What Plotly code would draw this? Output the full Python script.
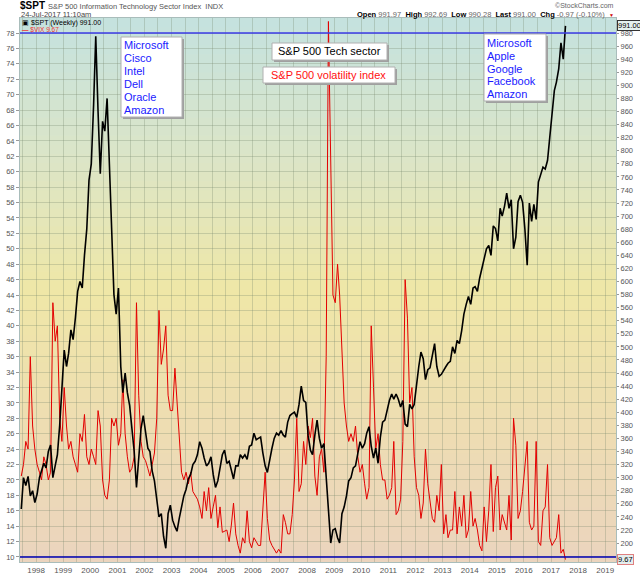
import pandas as pd
import plotly.graph_objects as go

# Weekly chart, kept here as mid-month values, Jun 1997 .. Jul 2017
spt_close = [
    252, 300, 288, 302, 272, 280, 262,                              # 1997 (Jun-Dec)
    275, 300, 312, 322, 315, 340, 350, 300, 318, 335, 380, 445,     # 1998
    495, 470, 490, 526, 511, 545, 585, 600, 590, 640, 680, 755,     # 1999
    780, 870, 975, 860, 765, 845, 830, 880, 770, 680, 580, 550,     # 2000
    590, 470, 430, 460, 430, 410, 380, 340, 285, 330, 375, 395,     # 2001
    370, 345, 340, 310, 295, 265, 240, 245, 210, 192, 245, 258,     # 2002
    235, 225, 218, 238, 258, 272, 282, 298, 305, 320, 325, 335,     # 2003
    355, 345, 330, 318, 322, 332, 305, 285, 295, 312, 335, 342,     # 2004
    322, 325, 312, 298, 318, 318, 335, 330, 335, 328, 348, 350,     # 2005
    368, 358, 360, 362, 338, 318, 308, 328, 345, 360, 368, 365,     # 2006
    372, 365, 362, 385, 395, 398, 400, 392, 412, 440, 418, 415,     # 2007
    365, 342, 335, 365, 388, 360, 345, 352, 305, 250, 200, 220,     # 2008
    222, 208, 200, 245, 255, 272, 295, 300, 315, 318, 335, 355,     # 2009
    345, 352, 368, 378, 348, 330, 345, 322, 362, 385, 388, 405,     # 2010
    418, 428, 420, 428, 420, 408, 418, 382, 378, 412, 405, 412,     # 2011
    445, 470, 492, 482, 450, 465, 468, 490, 505, 470, 455, 458,     # 2012
    465, 470, 475, 478, 500, 490, 510, 505, 525, 550, 565, 577,     # 2013
    565, 590, 592, 585, 605, 620, 630, 650, 655, 640, 685, 681,     # 2014
    662, 712, 700, 715, 735, 712, 725, 650, 668, 722, 732, 721,     # 2015
    680, 625, 720, 692, 718, 695, 752, 765, 775, 772, 785, 820,     # 2016
    860, 892, 905, 925, 965, 940, 991,                              # 2017 (Jan-Jul)
]

vix_close = [
    20.5, 22, 25, 24, 36, 27, 24,                                   # 1997
    22, 21, 20, 23, 22, 20, 21, 43, 38, 40, 28, 25,                 # 1998
    32, 27, 24, 25, 23, 22, 21, 26, 25, 28.5, 23, 22,               # 1999
    24, 23, 22, 29, 27, 20, 18, 17.5, 20, 28, 27, 28,               # 2000
    24.5, 26, 33, 26, 23, 21, 21.5, 23, 43, 31, 25, 23,             # 2001
    22.5, 21.5, 20.5, 22, 23.5, 28, 42, 35, 37, 40, 31, 29,         # 2002
    29, 34.5, 30, 25, 21, 20, 21, 19.5, 21, 18.5, 18, 17.5,         # 2003
    16.5, 15, 18.5, 16, 19, 15, 16.5, 18, 13.8, 16.5, 13.2, 13.3,   # 2004
    13.5, 12, 14, 17, 13, 11.5, 10.5, 12.5, 11.8, 16, 12, 11.2,     # 2005
    12.5, 12, 11.5, 11.5, 16.5, 21, 15, 12.2, 11.5, 11, 10.5, 11,   # 2006
    10.5, 15.5, 14.5, 13, 13, 15.5, 20, 28, 18.5, 19.5, 25, 22,     # 2007
    27, 25.5, 28, 20.5, 18, 23, 24, 21, 36, 79.5, 58, 44,           # 2008
    43, 48, 44, 36, 30, 27, 25, 26, 25, 27, 23, 21,                 # 2009
    22, 19.5, 17.5, 19, 40, 32, 24, 26, 22, 20, 20, 17.5,           # 2010
    18, 19, 25, 15.5, 16, 17.5, 25, 46, 41, 30, 32, 23,             # 2011
    19, 18, 15, 17, 24, 19.5, 17, 15, 14.5, 18, 16, 22,             # 2012
    13, 15.5, 12.5, 13.5, 13.5, 18.5, 13, 16.5, 14, 18, 12.5, 13.5, # 2013
    18.5, 14, 15, 13.5, 11.5, 10.8, 16.5, 12, 16, 22, 13.3, 19,     # 2014
    20.5, 13.5, 15.5, 14.5, 13.5, 18, 12.2, 28, 24.5, 15, 16, 18.5, # 2015
    22, 25, 14.5, 13.5, 14, 25, 12, 11.5, 16, 16.5, 22, 12.5,       # 2016
    11.5, 12, 12.5, 15.5, 10.5, 11, 9.67,                           # 2017
]

dates = pd.date_range("1997-06-01", periods=len(spt_close), freq="MS") + pd.Timedelta(days=14)

left_box = ["Microsoft", "Cisco", "Intel", "Dell", "Oracle", "Amazon"]
right_box = ["Microsoft", "Apple", "Google", "Facebook", "Amazon"]
quote_fields = [("Open", "991.97"), ("High", "992.69"), ("Low", "990.28"),
                ("Last", "991.00"), ("Chg", "-0.97 (-0.10%)")]
vix_ticks = list(range(10, 80, 2))
spt_ticks = list(range(200, 1000, 20))

W, H = 640, 576
ML, MR, MT, MB = 20, 24, 18, 14
FONT = "Liberation Sans, Arial, sans-serif"


def fx(x):
    return (x - ML) / (W - ML - MR)


def fy(y):
    return (H - MB - y) / (H - MT - MB)


def mix(c1, c2, t):
    return tuple(round(a + (b - a) * t) for a, b in zip(c1, c2))


fig = go.Figure()

fig.add_trace(go.Scatter(x=dates, y=vix_close, mode="lines", yaxis="y",
                         line=dict(color="#e30000", width=1), hoverinfo="skip"))
fig.add_trace(go.Scatter(x=dates, y=spt_close, mode="lines", yaxis="y2",
                         line=dict(color="#000000", width=1.6), hoverinfo="skip"))

shapes = []
# background gradient: peach at the bottom, yellow in the middle, teal on top
stops = [(0.0, (235, 212, 190)), (0.25, (238, 221, 178)), (0.5, (239, 231, 167)),
         (0.75, (219, 229, 200)), (1.0, (196, 226, 223))]
n = 60
for i in range(n):
    t = (i + 0.5) / n
    for (a, ca), (b, cb) in zip(stops[:-1], stops[1:]):
        if a <= t <= b:
            c = mix(ca, cb, (t - a) / (b - a))
            break
    shapes.append(dict(type="rect", xref="x domain", yref="y domain",
                       x0=0, x1=1, y0=i / n, y1=(i + 1) / n + 0.002,
                       fillcolor="rgb(%d,%d,%d)" % c, line=dict(width=0), layer="below"))

# user drawn lines
shapes.append(dict(type="line", xref="x domain", yref="y", x0=0, x1=1, y0=78, y1=78,
                   line=dict(color="#3b3be6", width=1.5)))
shapes.append(dict(type="line", xref="x domain", yref="y", x0=0, x1=1, y0=10, y1=10,
                   line=dict(color="#0000b4", width=1.5)))

annotations = []


def add_box(x0, y0, x1, y1):
    shapes.append(dict(type="rect", xref="paper", yref="paper",
                       x0=fx(x0 + 2), x1=fx(x1 + 2), y0=fy(y1 + 2), y1=fy(y0 + 2),
                       fillcolor="#a0a0a0", line=dict(width=0), layer="above"))
    shapes.append(dict(type="rect", xref="paper", yref="paper",
                       x0=fx(x0), x1=fx(x1), y0=fy(y1), y1=fy(y0),
                       fillcolor="white", line=dict(color="#b0b0b0", width=1), layer="above"))


def add_text(x, y, text, size=11, color="black", anchor="left"):
    annotations.append(dict(xref="paper", yref="paper", x=fx(x), y=fy(y), text=text,
                            showarrow=False, xanchor=anchor, yanchor="middle", borderpad=0,
                            font=dict(family=FONT, size=size, color=color)))


add_box(121, 37, 182, 117)
for i, name in enumerate(left_box):
    add_text(123, 45.5 + i * 12.8, name, color="#1a1aff")

add_box(484, 34, 546, 101)
for i, name in enumerate(right_box):
    add_text(486, 43 + i * 12.8, name, color="#1a1aff")

add_box(272, 43, 387, 60)
add_text(329.5, 51.5, "S&P 500 Tech sector", anchor="center")

add_box(263, 67, 395, 83)
add_text(329, 75, "S&P 500 volatility index", color="#ff1010", anchor="center")

# header
add_text(19, 5.5, "<b>$SPT</b>", size=10)
add_text(47, 6, "S&P 500 Information Technology Sector Index  INDX", size=7.5, color="#555")
add_text(20, 14, "24-Jul-2017 11:10am", size=7.5, color="#444")
add_text(615, 5.5, "\u00a9StockCharts.com", size=7, color="#666", anchor="right")
quote = "  ".join("<b>%s</b> <span style='color:#666'>%s</span>" % kv for kv in quote_fields)
add_text(606, 14, quote, size=7.5, anchor="right")
add_text(615, 14.5, "\u25bc", size=5, color="#cc0000", anchor="right")

# legend inside the plot
add_text(21, 22.5, "\u25a3 $SPT (Weekly) 991.00", size=7)
add_text(21, 29, "<b>\u2014</b> $VIX 9.67", size=6.5, color="#e33")

# last value tags on the right axis
annotations.append(dict(xref="paper", yref="y2", x=1, y=spt_close[-1], text="991.00",
                        showarrow=False, xanchor="left", yanchor="middle", xshift=1,
                        font=dict(family=FONT, size=7.5, color="black"),
                        bgcolor="#e4f1ef", bordercolor="#333", borderwidth=1, borderpad=0))
annotations.append(dict(xref="paper", yref="y", x=1, y=vix_close[-1], text="9.67",
                        showarrow=False, xanchor="left", yanchor="middle", xshift=1,
                        font=dict(family=FONT, size=7.5, color="black"),
                        bgcolor="#e4eeee", bordercolor="#e08080", borderwidth=1, borderpad=0))

grid = "rgba(120,135,110,0.30)"

fig.update_layout(
    width=W, height=H,
    margin=dict(l=ML, r=MR, t=MT, b=MB, pad=0, autoexpand=False),
    paper_bgcolor="white",
    plot_bgcolor="#e6e0b8",
    showlegend=False,
    font=dict(family=FONT, size=8, color="#555"),
    shapes=shapes,
    annotations=annotations,
    xaxis=dict(
        type="date", range=["1997-05-29", "2019-05-27"],
        tick0="1998-01-01", dtick="M12", tickformat="%Y",
        showgrid=True, gridcolor=grid, gridwidth=1,
        minor=dict(dtick="M6", showgrid=True, gridcolor=grid, gridwidth=1),
        ticks="", tickfont=dict(size=8, color="#555"), automargin=False,
        showline=True, linecolor="#a9bdbb", mirror=True, zeroline=False,
    ),
    yaxis=dict(
        range=[9.35, 79.95], tickmode="array", tickvals=vix_ticks,
        showgrid=True, gridcolor=grid, gridwidth=1,
        ticks="outside", ticklen=3, tickcolor="#999", automargin=False,
        tickfont=dict(size=7.5, color="#555"),
        showline=True, linecolor="#a9bdbb", zeroline=False,
    ),
    yaxis2=dict(
        overlaying="y", side="right", range=[171, 1003],
        tickmode="array", tickvals=spt_ticks, automargin=False,
        showgrid=False, ticks="outside", ticklen=2, tickcolor="#999",
        tickfont=dict(size=7.5, color="#555"),
        showline=True, linecolor="#a9bdbb", zeroline=False,
    ),
)

# the page's default 8px body margin would push the fixed-size figure off the window
fig.write_html("out.html", config={"displayModeBar": False},
               post_script="document.body.style.margin='0';")
